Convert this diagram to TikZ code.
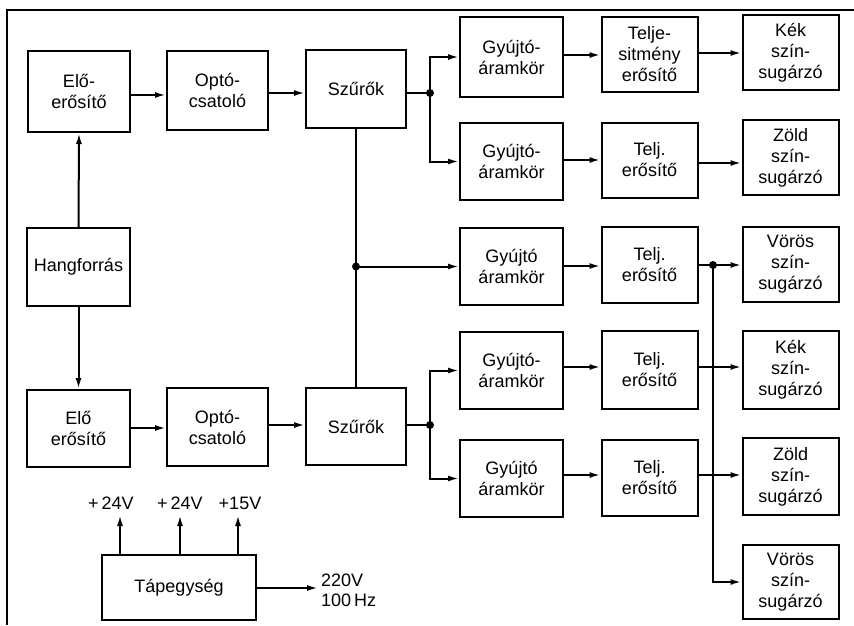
\documentclass[tikz,border=0pt]{standalone}
\usepackage{fontspec}
\setmainfont{Liberation Sans}
\usetikzlibrary{arrows.meta}
\tikzset{
  blk/.style={draw, line width=2pt, inner sep=0pt, align=center,
    font=\fontsize{18}{21}\selectfont},
  arr/.style={line width=2pt, -{Latex[length=11pt,width=6pt]}},
  ln/.style={line width=2pt},
  jdot/.style={circle, fill, inner sep=0pt, minimum size=8pt},
  lbl/.style={font=\fontsize{18}{20}\selectfont, inner sep=0pt}
}
\begin{document}
\begin{tikzpicture}[x=1pt,y=-1pt]
\useasboundingbox (0,0) rectangle (854,625);
% frame
\draw[ln] (7,625) -- (7,10) -- (854,10);
% left column
\node[blk, minimum width=102pt, minimum height=81pt] (e1) at (79,91.5) {Elő-\\erősítő};
\node[blk, minimum width=101pt, minimum height=79pt] (o1) at (217.5,90.5) {Optó-\\csatoló};
\node[blk, minimum width=100pt, minimum height=78pt] (s1) at (356,89) {Szűrők};
\node[blk, minimum width=103pt, minimum height=78pt] (h) at (78.5,267) {Hangforrás};
\node[blk, minimum width=103pt, minimum height=77pt] (e2) at (78.5,428.5) {Elő\\erősítő};
\node[blk, minimum width=101pt, minimum height=78pt] (o2) at (217.5,427) {Optó-\\csatoló};
\node[blk, minimum width=100pt, minimum height=77pt] (s2) at (356,426.5) {Szűrők};
% Gyujto column
\node[blk, minimum width=103pt, minimum height=80pt] (g1) at (511.5,57) {Gyújtó-\\áramkör};
\node[blk, minimum width=103pt, minimum height=77pt] (g2) at (511.5,161.5) {Gyújtó-\\áramkör};
\node[blk, minimum width=103pt, minimum height=77pt] (g3) at (511.5,266.5) {Gyújtó\\áramkör};
\node[blk, minimum width=103pt, minimum height=77pt] (g4) at (511.5,370.5) {Gyújtó-\\áramkör};
\node[blk, minimum width=103pt, minimum height=77pt] (g5) at (511.5,478.5) {Gyújtó\\áramkör};
% Telj column
\node[blk, minimum width=96pt, minimum height=75pt] (t1) at (649.5,54.5) {Telje-\\sitmény\\erősítő};
\node[blk, minimum width=96pt, minimum height=75pt] (t2) at (649.5,160) {Telj.\\erősítő};
\node[blk, minimum width=96pt, minimum height=76pt] (t3) at (649.5,265) {Telj.\\erősítő};
\node[blk, minimum width=96pt, minimum height=78pt] (t4) at (649.5,370) {Telj.\\erősítő};
\node[blk, minimum width=96pt, minimum height=76pt] (t5) at (649.5,477.5) {Telj.\\erősítő};
% emitters
\node[blk, minimum width=96pt, minimum height=75pt] (k1) at (790.5,52.5) {Kék\\szín-\\sugárzó};
\node[blk, minimum width=96pt, minimum height=75pt] (z1) at (790.5,157.5) {Zöld\\szín-\\sugárzó};
\node[blk, minimum width=96pt, minimum height=75pt] (v1) at (790.5,264.5) {Vörös\\szín-\\sugárzó};
\node[blk, minimum width=96pt, minimum height=78pt] (k2) at (790.5,370) {Kék\\szín-\\sugárzó};
\node[blk, minimum width=96pt, minimum height=77pt] (z2) at (790.5,476.5) {Zöld\\szín-\\sugárzó};
\node[blk, minimum width=96pt, minimum height=74pt] (v2) at (790.5,582) {Vörös\\szín-\\sugárzó};
% power supply
\node[blk, minimum width=154pt, minimum height=65pt] (p) at (179,587.5) {Tápegység};
% junctions
\coordinate (j1) at (430,93);
\coordinate (j2) at (430,425);
\coordinate (jm) at (356,266.5);
\coordinate (jv) at (713,265);
\node[jdot] (d1) at (j1) {};
\node[jdot] (d2) at (j2) {};
\node[jdot] (dm) at (jm) {};
\node[jdot] (dv) at (jv) {};
% left connections
\draw[arr] (h.north) -- (e1.south);
\draw[arr] (h.south) -- (e2.north);
\draw[arr] (e1.east |- 0,95) -- (o1.west |- 0,95);
\draw[arr] (o1.east |- 0,93) -- (s1.west |- 0,93);
\draw[arr] (e2.east |- 0,428) -- (o2.west |- 0,428);
\draw[arr] (o2.east |- 0,425) -- (s2.west |- 0,425);
\draw[ln] (s1.south) -- (s2.north);
\draw[arr] (jm) -- (g3.west |- jm);
% upper fan-out
\draw[ln] (s1.east |- j1) -- (j1);
\draw[arr] (j1) |- (g1.west);
\draw[arr] (j1) |- (g2.west);
% lower fan-out
\draw[ln] (s2.east |- j2) -- (j2);
\draw[arr] (j2) |- (g4.west);
\draw[arr] (j2) |- (g5.west);
% gyujto -> telj
\draw[arr] (g1.east |- 0,55) -- (t1.west |- 0,55);
\draw[arr] (g2.east |- 0,160) -- (t2.west |- 0,160);
\draw[arr] (g3.east |- 0,266) -- (t3.west |- 0,266);
\draw[arr] (g4.east |- 0,367) -- (t4.west |- 0,367);
\draw[arr] (g5.east |- 0,475) -- (t5.west |- 0,475);
% telj -> emitters
\draw[arr] (t1.east |- 0,53) -- (k1.west |- 0,53);
\draw[arr] (t2.east |- 0,163) -- (z1.west |- 0,163);
\draw[ln] (t3.east |- jv) -- (jv);
\draw[arr] (jv) -- (v1.west |- jv);
\draw[arr] (jv) |- (v2.west);
\draw[arr] (t4.east |- 0,367) -- (k2.west |- 0,367);
\draw[arr] (t5.east |- 0,475) -- (z2.west |- 0,475);
% power supply outputs
\coordinate (u1) at (120,515);
\coordinate (u2) at (180,515);
\coordinate (u3) at (238,515);
\draw[arr] (p.north -| u1) -- (u1);
\draw[arr] (p.north -| u2) -- (u2);
\draw[arr] (p.north -| u3) -- (u3);
\node[lbl] (l1) at (111,503) {+\,24V};
\node[lbl] (l2) at (180,503) {+\,24V};
\node[lbl] (l3) at (240,503) {+15V};
\coordinate (mains) at (318,588);
\draw[arr] (p.east |- mains) -- (mains);
\node[lbl, anchor=west, align=left] (l4) at (321,590) {220V\\100\,Hz};
\end{tikzpicture}
\end{document}
